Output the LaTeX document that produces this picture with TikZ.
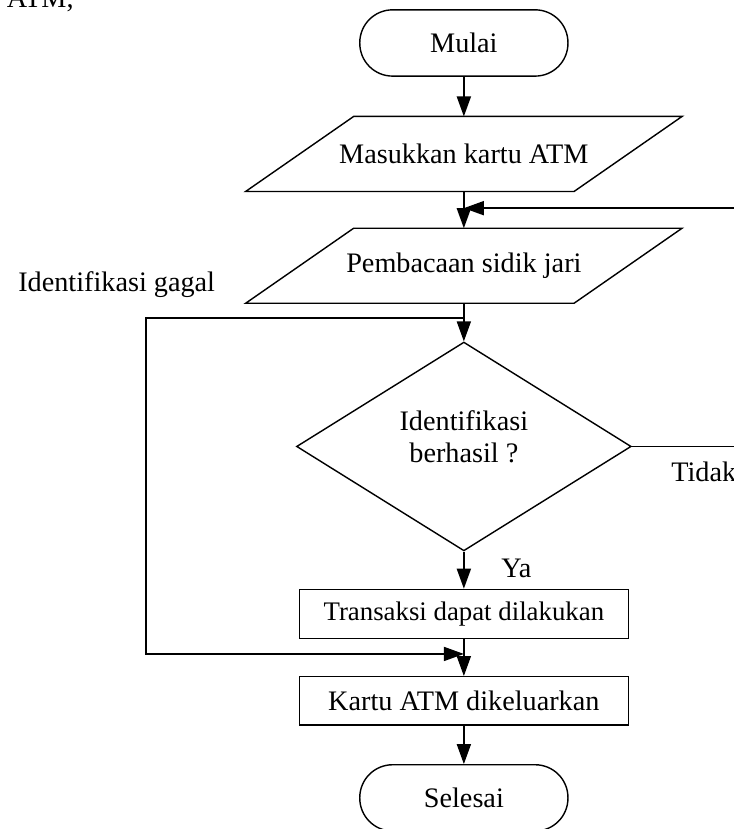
\documentclass[tikz,border=0pt]{standalone}
\usepackage{fontspec}
\setmainfont{Liberation Serif}
\usepackage{tikz}
\usetikzlibrary{arrows.meta,positioning,shapes.geometric,calc}
\tikzset{
  dasar/.style={draw=black,line width=0.6pt,align=center,font=\fontsize{12}{14}\selectfont,inner sep=2pt},
  panah/.style={-{Triangle[length=8.5pt,width=6pt]},line width=0.6pt},
}

\begin{document}
\begin{tikzpicture}[terminal/.style={dasar,rounded corners=0.49cm,minimum width=3.11cm,minimum height=0.99cm},
  masukan/.style={dasar,draw=none,rectangle,minimum width=4.885cm,minimum height=1.1cm},
  keputusan/.style={dasar,diamond,aspect=1.6,minimum width=5.0cm,minimum height=3.12cm,text depth=8.4pt},
  proses/.style={dasar,rectangle,minimum width=4.92cm,minimum height=0.73cm}]
  \useasboundingbox (0,0) rectangle (10.951,-12.385);
  \node[anchor=base west,font=\fontsize{12}{14}\selectfont] (atm) at (-0.02,-0.105) {ATM,};
  \node[terminal] (mulai) at (6.93,-0.642) {Mulai};
  \node[masukan] (kartu) at (6.93,-2.30) {Masukkan kartu ATM};
  \node[masukan] (sidik) at (6.93,-3.97) {Pembacaan sidik jari};
  \node[keputusan] (cek) at (6.93,-6.67) {Identifikasi\\berhasil ?};
  \node[proses,font=\fontsize{11.4}{13.7}\selectfont] (transaksi) at (6.93,-9.17) {Transaksi dapat dilakukan};
  \node[proses,minimum height=0.72cm] (keluar) at (6.93,-10.47) {Kartu ATM dikeluarkan};
  \node[terminal] (selesai) at (6.93,-11.92) {Selesai};
  \coordinate (pisah) at (6.93,-4.75);
  \coordinate (gabung) at (6.93,-9.77);
  \coordinate (balik) at (6.93,-3.11);
  \node[anchor=base west,font=\fontsize{12}{14}\selectfont] (gagal) at (0.149,-4.36) {Identifikasi gagal};
  \node[anchor=base west,font=\fontsize{12}{14}\selectfont] (tidak) at (9.905,-7.20) {Tidak};
  \node[anchor=base west,font=\fontsize{12}{14}\selectfont] (ya) at (7.365,-8.635) {Ya};
  % jajaran genjang untuk masukan
  \foreach \n in {kartu,sidik}
    \draw[line width=0.6pt] ([xshift=-0.807cm]\n.south west) -- ([xshift=0.807cm]\n.north west)
      -- ([xshift=0.807cm]\n.north east) -- ([xshift=-0.807cm]\n.south east) -- cycle;
  % alur utama
  \draw[panah] (mulai) -- (kartu);
  \draw[panah] (kartu) -- (sidik);
  \draw[panah] (sidik) -- (cek);
  \draw[panah] (cek) -- (transaksi);
  \draw[panah] (transaksi) -- (keluar);
  \draw[panah] (keluar) -- (selesai);
  % cabang
  \draw[panah] (cek.east) -- (11.35,-6.67) |- (balik);
  \draw[panah] (pisah) -| (2.18,-9.77) -- (gabung);
\end{tikzpicture}
\end{document}
